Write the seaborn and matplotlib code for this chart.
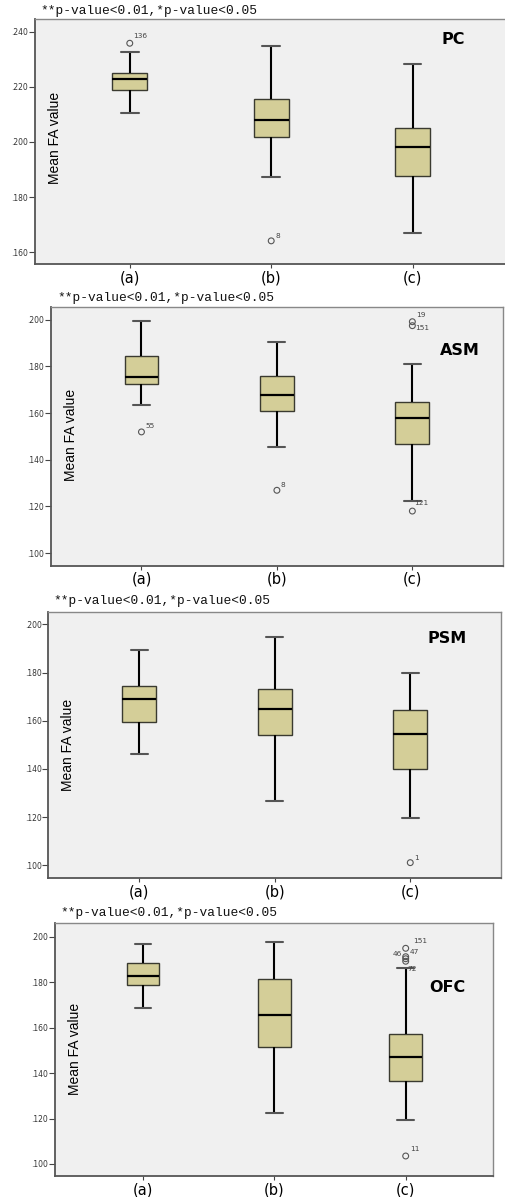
import numpy as np
import pandas as pd
import matplotlib
matplotlib.use("Agg")
import matplotlib.pyplot as plt
import seaborn as sns

# ---------------- data ----------------
cats = ["(a)", "(b)", "(c)"]
note_text = "**p-value<0.01,*p-value<0.05"
ylabel_text = "Mean FA value"

# PC
pc_low = [0.2105, 0.1872, 0.1670]
pc_q1 = [0.2187, 0.2017, 0.1878]
pc_med = [0.2227, 0.2079, 0.1980]
pc_q3 = [0.2249, 0.2156, 0.2051]
pc_high = [0.2325, 0.2347, 0.2283]
pc_out_group = ["(a)", "(b)"]
pc_out_value = [0.2358, 0.1641]
pc_out_label = ["136", "8"]
pc_ticks = [0.160, 0.180, 0.200, 0.220, 0.240]

# ASM
asm_low = [0.1633, 0.1453, 0.1224]
asm_q1 = [0.1723, 0.1609, 0.1467]
asm_med = [0.1754, 0.1677, 0.1580]
asm_q3 = [0.1843, 0.1759, 0.1646]
asm_high = [0.1994, 0.1904, 0.1810]
asm_out_group = ["(a)", "(b)", "(c)", "(c)", "(c)"]
asm_out_value = [0.1519, 0.1269, 0.1991, 0.1974, 0.1180]
asm_out_label = ["55", "8", "19", "151", "121"]

# PSM
psm_low = [0.1462, 0.1267, 0.1195]
psm_q1 = [0.1596, 0.1542, 0.1401]
psm_med = [0.1689, 0.1649, 0.1545]
psm_q3 = [0.1746, 0.1730, 0.1646]
psm_high = [0.1894, 0.1947, 0.1797]
psm_out_group = ["(c)"]
psm_out_value = [0.1011]
psm_out_label = ["1"]

# OFC
ofc_low = [0.1685, 0.1226, 0.1195]
ofc_q1 = [0.1786, 0.1513, 0.1367]
ofc_med = [0.1826, 0.1654, 0.1472]
ofc_q3 = [0.1883, 0.1814, 0.1573]
ofc_high = [0.1969, 0.1978, 0.1861]
ofc_out_group = ["(c)", "(c)", "(c)", "(c)", "(c)"]
ofc_out_value = [0.1949, 0.1912, 0.1903, 0.1892, 0.1035]
ofc_out_label = ["151", "46", "47", "72", "11"]

ticks_100_200 = [0.100, 0.120, 0.140, 0.160, 0.180, 0.200]

# ---------------- layout / style ----------------
W, H = 506, 1197
sns.set_theme(style="white")
plt.rcParams["font.family"] = ["DejaVu Sans"]

fig = plt.figure(figsize=(W / 100, H / 100), dpi=100)
fig.patch.set_facecolor("white")

BOX_FILL = "#d4ce98"
BG = "#f0f0f0"

panels = [
    dict(name="PC", low=pc_low, q1=pc_q1, med=pc_med, q3=pc_q3, high=pc_high,
         og=pc_out_group, ov=pc_out_value, ol=pc_out_label,
         offs=[(3, -7, "left"), (4, -5, "left")],
         ylim=(0.1557, 0.2446), ticks=pc_ticks,
         box=(35, 19, 507, 264), note=(40, 10.7), lab=(453, 39), ylab=(55, 138)),
    dict(name="ASM", low=asm_low, q1=asm_q1, med=asm_med, q3=asm_q3, high=asm_high,
         og=asm_out_group, ov=asm_out_value, ol=asm_out_label,
         offs=[(4, -6, "left"), (4, -5, "left"), (3.5, -7, "left"), (3, 2, "left"), (2, -8, "left")],
         ylim=(0.0946, 0.2054), ticks=ticks_100_200,
         box=(50.7, 307, 502.7, 565.7), note=(57, 297.7), lab=(460, 351), ylab=(71, 435)),
    dict(name="PSM", low=psm_low, q1=psm_q1, med=psm_med, q3=psm_q3, high=psm_high,
         og=psm_out_group, ov=psm_out_value, ol=psm_out_label,
         offs=[(4, -5, "left")],
         ylim=(0.0946, 0.2053), ticks=ticks_100_200,
         box=(48.3, 611.7, 500.7, 878.3), note=(53, 600.7), lab=(447, 638.3), ylab=(68.3, 745)),
    dict(name="OFC", low=ofc_low, q1=ofc_q1, med=ofc_med, q3=ofc_q3, high=ofc_high,
         og=ofc_out_group, ov=ofc_out_value, ol=ofc_out_label,
         offs=[(7, -7, "left"), (-4, -2.5, "right"), (4, -7, "left"), (2, 8, "left"), (4, -7, "left")],
         ylim=(0.0947, 0.2059), ticks=ticks_100_200,
         box=(55, 923.3, 493.3, 1176), note=(60, 913.3), lab=(447.7, 987.3), ylab=(75, 1049.3)),
]

PX2PT = 0.72

for p in panels:
    l, t, r, b = p["box"]
    ax = fig.add_axes([l / W, 1 - b / H, (r - l) / W, (b - t) / H])
    ax.set_facecolor(BG)

    groups, values = [], []
    for i, c in enumerate(cats):
        for v in (p["low"][i], p["q1"][i], p["med"][i], p["q3"][i], p["high"][i]):
            groups.append(c)
            values.append(v)
    df = pd.DataFrame({"group": groups, "value": values})

    sns.boxplot(data=df, x="group", y="value", order=cats, ax=ax,
                color=BOX_FILL, saturation=1, width=0.25, whis=np.inf,
                showfliers=False, linecolor="black", linewidth=1.5,
                boxprops=dict(edgecolor="#3a3a30", linewidth=1.0),
                capprops=dict(color="#555555", linewidth=1.5),
                medianprops=dict(color="black", linewidth=1.6),
                whiskerprops=dict(color="black", linewidth=1.5))

    odf = pd.DataFrame({"group": p["og"], "value": p["ov"]})
    n_before = len(ax.collections)
    sns.stripplot(data=odf, x="group", y="value", order=cats, ax=ax,
                  jitter=False, color="#555555", size=4.2, linewidth=0.8,
                  edgecolor="#555555", zorder=5)
    for coll in ax.collections[n_before:]:
        coll.set_facecolor("none")
        coll.set_edgecolor("#555555")

    for g, v, lab_, (dx, dy, ha) in zip(p["og"], p["ov"], p["ol"], p["offs"]):
        ax.annotate(lab_, (cats.index(g), v), xytext=(dx * PX2PT, -dy * PX2PT),
                    textcoords="offset points", ha=ha, va="center",
                    fontsize=5.3, color="#444444")

    ax.set_xlim(-0.67, 2.667)
    ax.set_ylim(*p["ylim"])
    ax.set_yticks(p["ticks"])
    ax.set_yticklabels([f"{v:.3f}".lstrip("0") for v in p["ticks"]],
                       fontsize=5.5, color="#333333")
    ax.set_xticks(range(len(cats)))
    ax.set_xticklabels(cats, fontsize=10.5, color="black")
    ax.set_xlabel("")
    ax.set_ylabel("")
    ax.tick_params(axis="y", direction="out", length=4.3, width=0.8,
                   color="#444444", pad=0.5, left=True)
    ax.tick_params(axis="x", direction="out", length=3, width=0.8,
                   color="#444444", pad=1.5, bottom=True)
    for side in ["left", "bottom"]:
        ax.spines[side].set_color("#555555")
        ax.spines[side].set_linewidth(1.3)
    for side in ["top", "right"]:
        ax.spines[side].set_color("#888888")
        ax.spines[side].set_linewidth(1.0)

    fig.text(p["note"][0] / W, 1 - p["note"][1] / H, note_text,
             family=["Liberation Mono", "DejaVu Sans Mono"], fontsize=9.3,
             ha="left", va="center", color="#111111")
    fig.text(p["lab"][0] / W, 1 - p["lab"][1] / H, p["name"],
             fontsize=11.5, fontweight="bold", ha="center", va="center",
             color="black")
    fig.text(p["ylab"][0] / W, 1 - p["ylab"][1] / H, ylabel_text,
             family=["Liberation Sans Narrow", "Liberation Sans", "DejaVu Sans"],
             fontsize=10, rotation=90, ha="center", va="center", color="black")

fig.savefig("out.png", dpi=100, facecolor="white")
